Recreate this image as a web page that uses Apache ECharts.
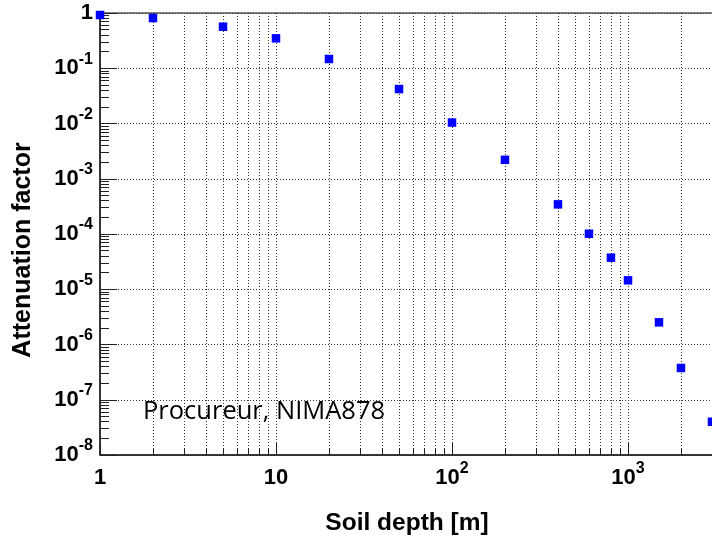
<!DOCTYPE html>
<html><head><meta charset="utf-8">
<script src="https://cdn.jsdelivr.net/npm/echarts@6/dist/echarts.min.js"></script>
<style>html,body{margin:0;padding:0;background:#fff}#c{width:712px;height:536px}</style>
</head><body><div id="c"></div>
<script>
// Data
const depth = [1, 2, 5, 10, 20, 50, 100, 200, 400, 600, 800, 1000, 1500, 2000, 3000];
const attenuation = [0.92, 0.81, 0.565, 0.348, 0.147, 0.042, 0.0104, 0.0022, 3.44e-4, 1.01e-4, 3.73e-5, 1.45e-5, 2.52e-6, 3.76e-7, 4.0e-8];
// tick labels indexed by decade exponent
const xTickLabels = ['1', '10', '10^2', '10^3', '10^4'];            // exponents 0..4
const yTickLabels = ['10^-8', '10^-7', '10^-6', '10^-5', '10^-4', '10^-3', '10^-2', '10^-1', '1']; // exponents -8..0
const xTitle = 'Soil depth [m]';
const yTitle = 'Attenuation factor';
const note = 'Procureur, NIMA878';

function toRich(lbl) {
  if (!lbl) return '';
  const p = lbl.split('^');
  return p.length > 1 ? '{b|' + p[0] + '}{s|' + p[1] + '}' : '{b|' + p[0] + '}';
}
const rich = {
  b: {fontSize: 22, lineHeight: 22, fontWeight: 'bold', fontFamily: 'Liberation Sans', color: '#000', verticalAlign: 'bottom'},
  s: {fontSize: 16, lineHeight: 16, fontWeight: 'bold', fontFamily: 'Liberation Sans', color: '#000', verticalAlign: 'bottom', padding: [0, 0, 12, 0]}
};
const dotted = {color: '#333', width: 1, type: [1, 2]};

const chart = echarts.init(document.getElementById('c'));
chart.setOption({
  animation: false,
  backgroundColor: '#fff',
  grid: {left: 100, top: 13, width: 704, height: 442, show: true, borderColor: '#000', borderWidth: 1, backgroundColor: 'transparent', outerBoundsMode: 'none', containLabel: false},
  xAxis: {
    type: 'log', logBase: 10, min: 1, max: 10000, splitNumber: 4,
    axisLine: {lineStyle: {color: '#222', width: 1.5}},
    axisTick: {show: true, inside: true, length: 12, lineStyle: {color: '#222', width: 1}},
    minorTick: {show: true, splitNumber: 9, length: 7, lineStyle: {color: '#222', width: 1}},
    splitLine: {show: true, lineStyle: dotted},
    minorSplitLine: {show: true, lineStyle: dotted},
    axisLabel: {
      margin: 12, rich: rich,
      formatter: function (v) { return toRich(xTickLabels[Math.round(Math.log10(v))]); }
    }
  },
  yAxis: {
    type: 'log', logBase: 10, min: 1e-8, max: 1, splitNumber: 8,
    axisLine: {lineStyle: {color: '#222', width: 1.5}},
    axisTick: {show: true, inside: true, length: 17, lineStyle: {color: '#222', width: 1}},
    minorTick: {show: true, splitNumber: 9, length: 9, lineStyle: {color: '#222', width: 1}},
    splitLine: {show: true, lineStyle: dotted},
    minorSplitLine: {show: false},
    axisLabel: {
      margin: 7, rich: rich,
      formatter: function (v) { return toRich(yTickLabels[Math.round(Math.log10(v)) + 8]); }
    }
  },
  series: [{
    type: 'scatter', symbol: 'rect', symbolSize: 8.5,
    itemStyle: {color: '#0000ff', opacity: 1},
    data: depth.map(function (d, i) { return [d, attenuation[i]]; }),
    clip: false
  }],
  graphic: [
    {type: 'text', x: 407, y: 523, style: {text: xTitle, align: 'center', verticalAlign: 'middle', font: 'bold 24.5px "Liberation Sans"', fill: '#000'}},
    {type: 'text', x: 23, y: 250, rotation: Math.PI / 2, style: {text: yTitle, align: 'center', verticalAlign: 'middle', font: 'bold 25px "Liberation Sans"', fill: '#000'}},
    {type: 'text', x: 143, y: 412, style: {text: note, align: 'left', verticalAlign: 'middle', font: '25.5px "Open Sans"', fill: '#000'}}
  ]
});
</script>
</body></html>
